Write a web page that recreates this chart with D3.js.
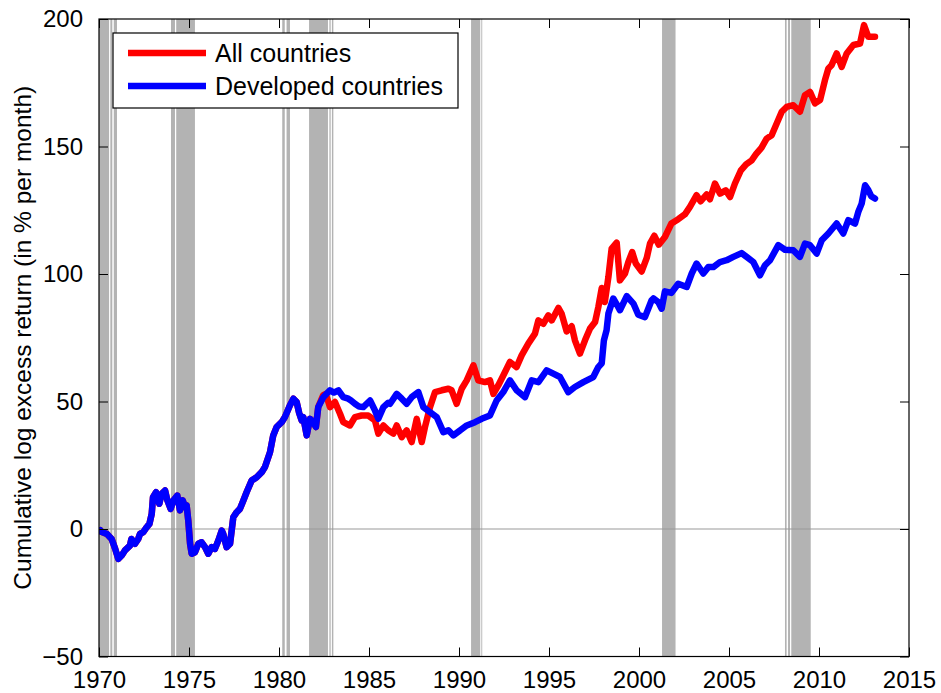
<!DOCTYPE html>
<html>
<head>
<meta charset="utf-8">
<script src="https://cdn.jsdelivr.net/npm/d3@7"></script>
<style>
  html, body { margin: 0; padding: 0; background: #fff; }
  svg { display: block; font-family: "Liberation Sans", Arial, Helvetica, sans-serif; }
</style>
</head>
<body>
<svg id="chart" width="941" height="693"></svg>
<script>
// ---------- DATA ----------
const xTicks = [1970, 1975, 1980, 1985, 1990, 1995, 2000, 2005, 2010, 2015];
const yTicks = [-50, 0, 50, 100, 150, 200];
const seriesNames = ["All countries", "Developed countries"];

// Recession shading segments [start, end] in decimal years
const recessionStart = [1969.95, 1970.63, 1970.82, 1974.0, 1974.29, 1980.18, 1980.42, 1981.67, 1982.8, 1982.94, 1990.67, 1991.24, 2001.28, 2008.11, 2008.28, 2008.46];
const recessionEnd   = [1970.56, 1970.74, 1971.0, 1974.22, 1975.33, 1980.32, 1980.61, 1982.72, 1982.87, 1983.02, 1991.18, 1991.29, 2002.03, 2008.2, 2008.39, 2009.54];

// Developed countries
const devYears = [1970.08,1970.15,1970.43,1970.7,1970.9,1971.07,1971.26,1971.44,1971.72,1971.8,1972.0,1972.18,1972.28,1972.46,1972.65,1972.8,1972.93,1973.0,1973.17,1973.35,1973.48,1973.67,1973.8,1973.98,1974.13,1974.35,1974.5,1974.65,1974.78,1974.87,1974.96,1975.06,1975.15,1975.33,1975.52,1975.7,1975.89,1976.07,1976.26,1976.44,1976.63,1976.82,1976.9,1977.09,1977.28,1977.46,1977.65,1977.83,1978.02,1978.2,1978.48,1978.76,1979.04,1979.22,1979.5,1979.68,1979.87,1980.15,1980.33,1980.61,1980.8,1980.98,1981.12,1981.26,1981.35,1981.54,1981.72,1981.9,1982.05,1982.18,1982.46,1982.83,1983.05,1983.3,1983.57,1983.85,1984.0,1984.22,1984.45,1984.68,1985.06,1985.33,1985.52,1985.8,1986.07,1986.17,1986.54,1986.82,1987.09,1987.37,1987.74,1988.02,1988.39,1988.76,1989.13,1989.41,1989.69,1990.06,1990.43,1990.89,1991.26,1991.72,1992.09,1992.46,1992.83,1993.2,1993.67,1994.04,1994.41,1994.87,1995.24,1995.61,1996.07,1996.44,1996.91,1997.46,1997.74,1997.93,1998.05,1998.2,1998.3,1998.48,1998.57,1998.85,1998.94,1999.32,1999.69,1999.96,2000.33,2000.7,2000.8,2001.07,2001.26,2001.44,2001.8,2002.18,2002.65,2002.93,2003.2,2003.57,2003.85,2004.13,2004.5,2004.87,2005.24,2005.7,2005.98,2006.35,2006.72,2007.0,2007.28,2007.74,2008.11,2008.57,2008.94,2009.22,2009.5,2009.87,2010.15,2010.52,2010.98,2011.35,2011.63,2012.0,2012.18,2012.37,2012.56,2012.74,2012.9,2013.11];
const devValues = [-0.5,-1.2,-1.9,-3.9,-7.8,-11.7,-10.4,-8.4,-6.5,-3.9,-5.8,-3.9,-1.9,-1.2,0.7,2.0,6,12.5,14.4,9.9,13.8,15.1,11.2,7.9,11.2,13.1,7.3,11.2,8.6,9.2,3.3,-5.8,-9.7,-9.1,-5.8,-5.2,-7.1,-9.7,-7.1,-7.8,-4.5,-0.6,-1.9,-7.1,-5.8,4.6,6.6,7.9,11.2,14.4,19,20.3,22.3,24.3,30.1,36.7,40,41.9,43.9,48.5,51.1,49.8,45.5,42.6,43.9,36.7,43.2,41.9,40,47.8,51.7,54.4,53.5,54.4,51.7,51.1,50.4,49.1,48,47.8,50.4,46.5,43.2,47.8,49.5,49.1,53,51.1,49.1,51.7,53.7,47.8,45.8,43.9,38,38.7,36.7,38.7,40.6,41.9,43.2,44.5,50.4,53.7,58.3,54.4,51.7,58.3,57.6,62.2,60.9,59.6,53.7,55.7,57.6,59.6,63.5,65,74,78,84.5,88.4,90.4,87,85.8,91.3,88.4,84,83.1,89.7,90.4,89,86.4,93.2,92.6,96.2,94.9,100.2,104.1,100.2,102.7,102.7,104.7,105.4,106.7,108.2,106.7,104.7,99.5,103.4,105.4,111.3,109.5,109.3,106.7,111.9,111.3,108,113.2,115.9,119.8,115.9,121.1,119.8,124.3,127.6,134.8,132.9,130.5,129.6];

// All countries (identical to developed before mid-1982)
const allYears = [1970.08,1970.15,1970.43,1970.7,1970.9,1971.07,1971.26,1971.44,1971.72,1971.8,1972.0,1972.18,1972.28,1972.46,1972.65,1972.8,1972.93,1973.0,1973.17,1973.35,1973.48,1973.67,1973.8,1973.98,1974.13,1974.35,1974.5,1974.65,1974.78,1974.87,1974.96,1975.06,1975.15,1975.33,1975.52,1975.7,1975.89,1976.07,1976.26,1976.44,1976.63,1976.82,1976.9,1977.09,1977.28,1977.46,1977.65,1977.83,1978.02,1978.2,1978.48,1978.76,1979.04,1979.22,1979.5,1979.68,1979.87,1980.15,1980.33,1980.61,1980.8,1980.98,1981.12,1981.26,1981.35,1981.54,1981.72,1981.9,1982.05,1982.18,1982.46,1982.6,1982.83,1983.11,1983.39,1983.57,1983.94,1984.22,1984.59,1984.96,1985.33,1985.52,1985.8,1986.07,1986.35,1986.54,1986.82,1987.09,1987.37,1987.65,1987.93,1988.11,1988.39,1988.67,1989.04,1989.41,1989.59,1989.87,1990.15,1990.43,1990.8,1991.07,1991.44,1991.72,1991.91,1992.18,1992.46,1992.83,1993.2,1993.48,1993.85,1994.22,1994.41,1994.69,1994.96,1995.15,1995.52,1995.7,1995.98,1996.26,1996.44,1996.72,1997.0,1997.28,1997.56,1997.74,1997.93,1998.1,1998.3,1998.48,1998.76,1998.94,1999.22,1999.41,1999.62,1999.82,2000.15,2000.43,2000.61,2000.85,2001.1,2001.44,2001.8,2002.18,2002.56,2002.83,2003.2,2003.42,2003.76,2003.94,2004.22,2004.5,2004.82,2005.06,2005.33,2005.65,2005.95,2006.26,2006.5,2006.8,2007.09,2007.37,2007.65,2007.93,2008.2,2008.57,2008.94,2009.22,2009.5,2009.78,2010.06,2010.33,2010.52,2010.7,2010.98,2011.26,2011.54,2011.91,2012.28,2012.5,2012.74,2013.11];
const allValues = [-0.5,-1.2,-1.9,-3.9,-7.8,-11.7,-10.4,-8.4,-6.5,-3.9,-5.8,-3.9,-1.9,-1.2,0.7,2.0,6,12.5,14.4,9.9,13.8,15.1,11.2,7.9,11.2,13.1,7.3,11.2,8.6,9.2,3.3,-5.8,-9.7,-9.1,-5.8,-5.2,-7.1,-9.7,-7.1,-7.8,-4.5,-0.6,-1.9,-7.1,-5.8,4.6,6.6,7.9,11.2,14.4,19,20.3,22.3,24.3,30.1,36.7,40,41.9,43.9,48.5,51.1,49.8,45.5,42.6,43.9,36.7,43.2,41.9,40,47.8,52.5,53,47.8,49.8,45.2,41.9,40.6,43.9,44.5,44.5,42.6,37.4,40.6,38.7,37.4,40.6,36,38.7,34.1,43.2,34.1,40,47.8,53.7,54.4,55,54.4,49.1,55,58.3,64.2,58.3,57.6,58.3,53,56.3,60.2,65.5,63.5,68.1,72.7,76.6,81.8,80.5,83.8,81.8,86.7,84.5,77.5,79.5,74,68.8,74,78.6,81.2,87,94.5,89,98.8,110,112.3,97.5,100.2,104.7,108.6,104.1,101,106.3,111.9,115,111.5,114.5,119.8,121.5,123.5,126.3,130.9,128.5,131.2,129.3,135.5,131.5,132.8,130.2,135.5,140.5,143,144.6,147,149.5,153.1,154.4,159,163.6,165.5,166.2,163.6,170.1,171.4,166.9,168.2,176,180.6,181.9,186.5,181.2,186.5,189.8,190.4,197.6,193,193];

// ---------- LAYOUT ----------
const W = 941, H = 693;
const L = 99, R = 909, T = 19, B = 656.5;
const svg = d3.select("#chart");

const x = d3.scaleLinear().domain([1970, 2015]).range([L, R]);
const y = d3.scaleLinear().domain([-50, 200]).range([B, T]);

svg.append("defs").append("clipPath").attr("id", "clip")
  .append("rect").attr("x", L).attr("y", T).attr("width", R - L).attr("height", B - T);

const plot = svg.append("g").attr("clip-path", "url(#clip)");

// recession bands
plot.selectAll("rect.rec")
  .data(d3.range(recessionStart.length))
  .join("rect")
  .attr("class", "rec")
  .attr("x", i => x(recessionStart[i]))
  .attr("width", i => x(recessionEnd[i]) - x(recessionStart[i]))
  .attr("y", T).attr("height", B - T)
  .attr("fill", "#b3b3b3");

// zero line
plot.append("line")
  .attr("x1", L).attr("x2", R)
  .attr("y1", y(0)).attr("y2", y(0))
  .attr("stroke", "#9a9a9a").attr("stroke-width", 1.2);

const line = d3.line().x(d => x(d[0])).y(d => y(d[1]));
const allData = allYears.map((t, i) => [t, allValues[i]]);
const devData = devYears.map((t, i) => [t, devValues[i]]);

plot.append("path").datum(allData)
  .attr("d", line).attr("fill", "none")
  .attr("stroke", "#ff0000").attr("stroke-width", 6.5)
  .attr("stroke-linejoin", "round").attr("stroke-linecap", "round");
plot.append("path").datum(devData)
  .attr("d", line).attr("fill", "none")
  .attr("stroke", "#0000ff").attr("stroke-width", 6.5)
  .attr("stroke-linejoin", "round").attr("stroke-linecap", "round");

// axes (ticks inward on all 4 sides)
const tickLen = 9;
const axB = svg.append("g").attr("transform", `translate(0,${B})`)
  .call(d3.axisBottom(x).tickValues(xTicks).tickSizeInner(-tickLen).tickSizeOuter(0).tickPadding(14).tickFormat(d3.format("d")));
const axT = svg.append("g").attr("transform", `translate(0,${T})`)
  .call(d3.axisTop(x).tickValues(xTicks).tickSizeInner(-tickLen).tickSizeOuter(0).tickFormat(""));
const axL = svg.append("g").attr("transform", `translate(${L},0)`)
  .call(d3.axisLeft(y).tickValues(yTicks).tickSizeInner(-tickLen).tickSizeOuter(0).tickPadding(16));
const axR = svg.append("g").attr("transform", `translate(${R},0)`)
  .call(d3.axisRight(y).tickValues(yTicks).tickSizeInner(-tickLen).tickSizeOuter(0).tickFormat(""));

[axB, axT, axL, axR].forEach(a => {
  a.select(".domain").remove();
  a.selectAll(".tick line").attr("stroke", "#000").attr("stroke-width", 1);
  a.selectAll(".tick text").attr("font-size", 24).attr("fill", "#000")
    .attr("font-family", '"Liberation Sans", Arial, sans-serif');
});
axB.selectAll(".tick text").attr("dy", "0.71em");

// frame
svg.append("rect").attr("x", L).attr("y", T).attr("width", R - L).attr("height", B - T)
  .attr("fill", "none").attr("stroke", "#000").attr("stroke-width", 1.2);

// y label
svg.append("text")
  .attr("transform", `translate(31,${(T + B) / 2}) rotate(-90)`)
  .attr("text-anchor", "middle")
  .attr("font-size", 24.5)
  .text("Cumulative log excess return (in % per month)");

// legend
const lg = svg.append("g");
lg.append("rect").attr("x", 113).attr("y", 33).attr("width", 345).attr("height", 75)
  .attr("fill", "#fff").attr("stroke", "#000").attr("stroke-width", 1.2);
const legColors = ["#ff0000", "#0000ff"];
seriesNames.forEach((name, i) => {
  const yy = 53 + i * 33;
  lg.append("line").attr("x1", 128).attr("x2", 206).attr("y1", yy).attr("y2", yy)
    .attr("stroke", legColors[i]).attr("stroke-width", 6.5);
  lg.append("text").attr("x", 215).attr("y", yy).attr("dy", "0.35em")
    .attr("font-size", 25).text(name);
});
</script>
</body>
</html>
